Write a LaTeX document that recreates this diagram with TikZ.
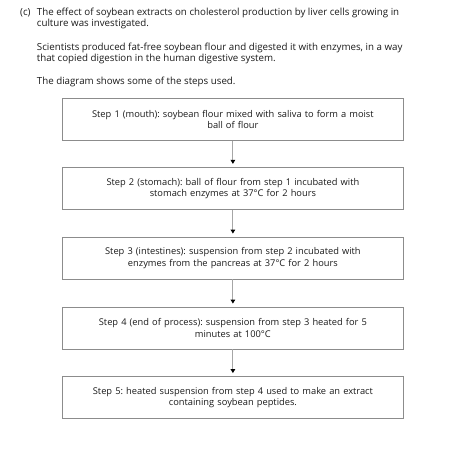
\documentclass[tikz,border=0pt]{standalone}
\usepackage{fontspec}
\setmainfont{Open Sans}
\usetikzlibrary{arrows.meta}
\frenchspacing
\definecolor{boxgray}{HTML}{8C8C8C}
\definecolor{linegray}{HTML}{A6A6A6}
\definecolor{txt}{HTML}{1A1A1A}
\begin{document}
\begin{tikzpicture}[x=1pt,y=-1pt,
  txtline/.style={anchor=base west,inner sep=0pt,text=txt,font=\fontsize{9.75}{11.5}\selectfont},
  stepbox/.style={draw=boxgray,line width=0.8pt,minimum width=341.2pt,minimum height=42pt,inner sep=0pt,text=txt,
    font=\fontsize{9.3}{11.3}\selectfont,align=center,text width=330pt},
  flow/.style={draw=linegray,line width=1pt,-{Triangle[length=4pt,width=4.5pt,color=black]},shorten >=3pt}]
\useasboundingbox (0,0) rectangle (456,456);
\node[txtline] (c) at (20,15) {(c)};
\node[txtline] (l1) at (36.7,15) {The effect of soybean extracts on cholesterol production by liver cells growing in};
\node[txtline] (l2) at (36.7,26.7) {culture was investigated.};
\node[txtline] (l3) at (36.7,50) {Scientists produced fat-free soybean flour and digested it with enzymes, in a way};
\node[txtline] (l4) at (36.7,61.7) {that copied digestion in the human digestive system.};
\node[txtline] (l5) at (36.7,84) {The diagram shows some of the steps used.};
\node[stepbox] (s1) at (232.9,119.2) {Step 1 (mouth): soybean flour mixed with saliva to form a moist\\ball of flour};
\node[stepbox] (s2) at (232.9,188.3) {Step 2 (stomach): ball of flour from step 1 incubated with\\stomach enzymes at 37°C for 2 hours};
\node[stepbox] (s3) at (232.9,258.0) {Step 3 (intestines): suspension from step 2 incubated with\\enzymes from the pancreas at 37°C for 2 hours};
\node[stepbox] (s4) at (232.9,328.0) {Step 4 (end of process): suspension from step 3 heated for 5\\minutes at 100°C};
\node[stepbox] (s5) at (232.9,397.5) {Step 5: heated suspension from step 4 used to make an extract\\containing soybean peptides.};
\draw[flow] (s1) -- (s2);
\draw[flow] (s2) -- (s3);
\draw[flow] (s3) -- (s4);
\draw[flow] (s4) -- (s5);
\end{tikzpicture}
\end{document}
